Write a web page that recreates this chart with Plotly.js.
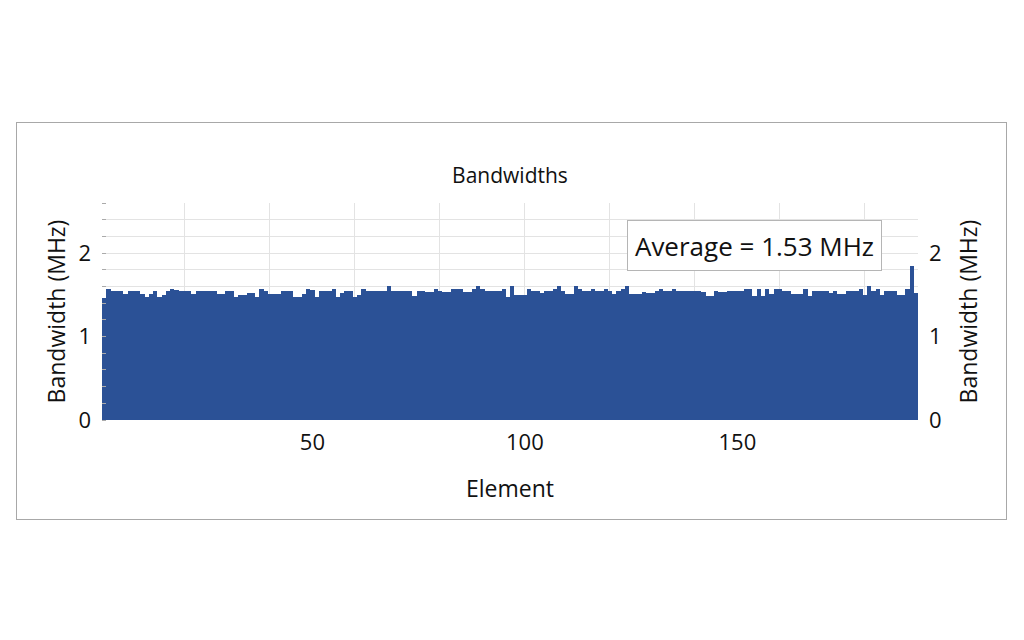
<!DOCTYPE html>
<html>
<head>
<meta charset="utf-8">
<script src="https://cdn.plot.ly/plotly-3.0.1.min.js"></script>
<style>
    html, body { margin: 0; padding: 0; background: #fff; }
    #frame {
        position: absolute;
        left: 16px;
        top: 122px;
        width: 989px;
        height: 396px;
        border: 1px solid #a8a8a8;
    }
    #chart { width: 989px; height: 396px; }
</style>
</head>
<body>
<div id="frame"><div id="chart"></div></div>
<script>
'use strict';

// bandwidth per element (MHz)
const bandwidths = [
    1.46, 1.57, 1.55, 1.54, 1.54, 1.51, 1.54, 1.54, 1.54, 1.51,
    1.47, 1.51, 1.54, 1.47, 1.50, 1.54, 1.57, 1.56, 1.54, 1.54,
    1.54, 1.51, 1.54, 1.54, 1.54, 1.54, 1.54, 1.51, 1.51, 1.54,
    1.54, 1.47, 1.50, 1.50, 1.52, 1.52, 1.47, 1.57, 1.55, 1.51,
    1.51, 1.51, 1.54, 1.54, 1.54, 1.47, 1.47, 1.51, 1.57, 1.56,
    1.47, 1.54, 1.54, 1.54, 1.57, 1.47, 1.52, 1.54, 1.54, 1.47,
    1.50, 1.57, 1.54, 1.54, 1.54, 1.54, 1.54, 1.60, 1.54, 1.54,
    1.54, 1.54, 1.54, 1.48, 1.54, 1.54, 1.53, 1.53, 1.57, 1.54,
    1.53, 1.53, 1.57, 1.57, 1.57, 1.53, 1.53, 1.57, 1.60, 1.57,
    1.54, 1.54, 1.54, 1.54, 1.57, 1.47, 1.60, 1.50, 1.50, 1.50,
    1.57, 1.55, 1.54, 1.52, 1.54, 1.54, 1.57, 1.60, 1.54, 1.51,
    1.51, 1.60, 1.57, 1.54, 1.54, 1.57, 1.54, 1.54, 1.57, 1.54,
    1.51, 1.54, 1.57, 1.60, 1.51, 1.51, 1.51, 1.53, 1.52, 1.52,
    1.54, 1.57, 1.54, 1.54, 1.57, 1.54, 1.54, 1.54, 1.54, 1.54,
    1.54, 1.53, 1.49, 1.49, 1.54, 1.53, 1.53, 1.54, 1.54, 1.54,
    1.54, 1.57, 1.57, 1.49, 1.57, 1.49, 1.57, 1.51, 1.57, 1.57,
    1.54, 1.54, 1.51, 1.51, 1.51, 1.57, 1.49, 1.54, 1.54, 1.54,
    1.54, 1.52, 1.54, 1.51, 1.51, 1.54, 1.54, 1.54, 1.57, 1.50,
    1.61, 1.54, 1.57, 1.50, 1.54, 1.54, 1.54, 1.50, 1.50, 1.57,
    1.85, 1.52
];
const elements = bandwidths.map((v, i) => i + 1);

const xTickVals = [50, 100, 150];
const yTickVals = [0, 1, 2];
const averageText = 'Average = 1.53 MHz';

const FONT = '"Open Sans", "Noto Sans", sans-serif';
const BAR_COLOR = '#2b5196';
const GRID_COLOR = '#e3e3e3';

const yAxisCommon = {
    range: [0, 2.6],
    tickvals: yTickVals,
    ticks: '',
    showline: false,
    zeroline: false,
    ticklabelstandoff: 10,
    tickfont: {size: 22, color: '#111'},
    automargin: false
};

const data = [
    {
        type: 'bar',
        x: elements,
        y: bandwidths,
        marker: {color: BAR_COLOR, line: {width: 0}},
        hoverinfo: 'x+y',
        showlegend: false
    },
    {
        // invisible trace so the right axis gets drawn
        type: 'scatter',
        mode: 'none',
        x: elements,
        y: bandwidths,
        yaxis: 'y2',
        hoverinfo: 'skip',
        showlegend: false
    }
];

const layout = {
    width: 989,
    height: 396,
    margin: {l: 85, r: 88, t: 80, b: 99},
    paper_bgcolor: '#fff',
    plot_bgcolor: '#fff',
    font: {family: FONT, color: '#111'},
    bargap: 0,
    title: {
        text: 'Bandwidths',
        font: {size: 21, color: '#111'},
        x: 0.5,
        xref: 'paper',
        y: 0.868,
        yref: 'container',
        yanchor: 'middle'
    },
    xaxis: {
        range: [0.5, 192.5],
        tickvals: xTickVals,
        showgrid: false,
        zeroline: false,
        showline: false,
        ticks: '',
        ticklabelstandoff: 7,
        tickfont: {size: 22, color: '#111'},
        title: {text: 'Element', font: {size: 23, color: '#111'}, standoff: 25},
        minor: {tick0: 0, dtick: 20, showgrid: true, gridcolor: GRID_COLOR, gridwidth: 1},
        automargin: false
    },
    yaxis: Object.assign({}, yAxisCommon, {
        side: 'left',
        showgrid: true,
        gridcolor: GRID_COLOR,
        title: {text: 'Bandwidth (MHz)', font: {size: 23, color: '#111'}, standoff: 6},
        minor: {dtick: 0.2, showgrid: true, gridcolor: GRID_COLOR, ticks: 'inside', ticklen: 4, tickcolor: '#aaa'}
    }),
    yaxis2: Object.assign({}, yAxisCommon, {
        side: 'right',
        overlaying: 'y',
        showgrid: false,
        title: {text: 'Bandwidth (MHz)', font: {size: 23, color: '#111'}, standoff: 20}
    }),
    annotations: [{
        text: averageText,
        xref: 'paper',
        yref: 'paper',
        x: 0.80,
        y: 0.805,
        xanchor: 'center',
        yanchor: 'middle',
        showarrow: false,
        font: {size: 26, color: '#111'},
        bgcolor: '#fff',
        bordercolor: '#b5b5b5',
        borderwidth: 1,
        borderpad: 3,
        width: 247,
        height: 43
    }]
};

Plotly.newPlot('chart', data, layout, {displayModeBar: false, staticPlot: true});
</script>
</body>
</html>
